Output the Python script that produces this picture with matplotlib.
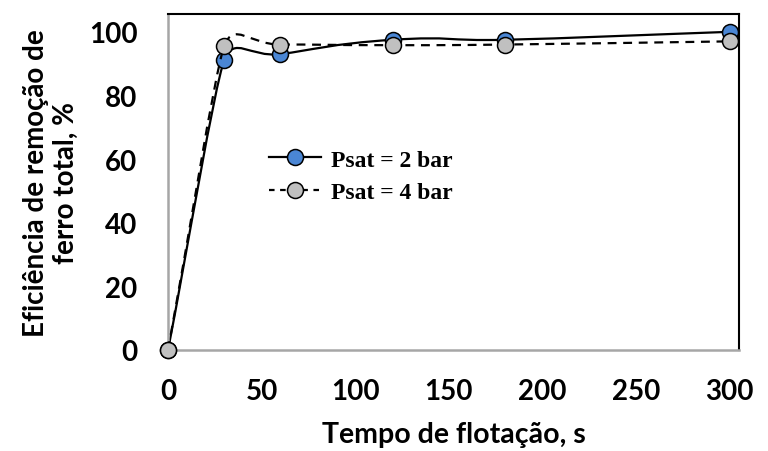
import numpy as np
import matplotlib
matplotlib.use("Agg")
import matplotlib.pyplot as plt
from matplotlib.path import Path
from matplotlib.patches import PathPatch
from matplotlib.lines import Line2D

# Data
tempo = [0, 30, 60, 120, 180, 300]
psat2 = [0, 91, 93, 97.5, 97.5, 100]
psat4 = [0, 95.5, 96, 95.8, 96, 97]
labels = ["Psat = 2 bar", "Psat = 4 bar"]
xticks = [0, 50, 100, 150, 200, 250, 300]
yticks = [0, 20, 40, 60, 80, 100]

fig = plt.figure(figsize=(7.68, 4.52), dpi=100)
ax = fig.add_axes([0.2188, 0.2235, 0.9622 - 0.2188, 0.9668 - 0.2235])
ax.set_xlim(0, 305)
ax.set_ylim(0, 105.6)

def smooth_path(xs, ys, k=0.55):
    pts = ax.transData.transform(np.column_stack([xs, ys]))
    n = len(pts)
    verts = [pts[0]]
    codes = [Path.MOVETO]
    for i in range(n - 1):
        p0 = pts[i - 1] if i > 0 else pts[i]
        p1 = pts[i]
        p2 = pts[i + 1]
        p3 = pts[i + 2] if i + 2 < n else pts[i + 1]
        d01 = np.linalg.norm(p1 - p0)
        d12 = np.linalg.norm(p2 - p1)
        d23 = np.linalg.norm(p3 - p2)
        if i > 0:
            c1 = p1 + (p2 - p0) * k * min(d01, d12) / (d01 + d12)
        else:
            c1 = p1 + (p2 - p1) / 3.0
        if i + 2 < n:
            c2 = p2 - (p3 - p1) * k * min(d12, d23) / (d12 + d23)
        else:
            c2 = p2 - (p2 - p1) / 3.0
        verts += [c1, c2, p2]
        codes += [Path.CURVE4] * 3
    verts = ax.transData.inverted().transform(np.array(verts))
    return Path(verts, codes)

blue = "#4A86D4"
grey = "#C0C0C0"

p2 = smooth_path(tempo, psat2)
ax.add_patch(PathPatch(p2, facecolor="none", edgecolor="black", lw=1.6, zorder=2))
ax.plot(tempo, psat2, linestyle="none", marker="o", ms=11.5, mfc=blue, mec="black", mew=1.1, zorder=3, clip_on=False)
p4 = smooth_path(tempo, psat4)
ax.add_patch(PathPatch(p4, facecolor="none", edgecolor="black", lw=1.6, linestyle=(0, (4, 3)), zorder=4))
ax.plot(tempo, psat4, linestyle="none", marker="o", ms=11.5, mfc=grey, mec="black", mew=1.1, zorder=5, clip_on=False)

ax.set_xticks(xticks)
ax.set_yticks(yticks)
ax.tick_params(length=0, labelsize=20)
ax.tick_params(axis="x", pad=20)
ax.tick_params(axis="y", pad=22)
for lab in ax.get_xticklabels() + ax.get_yticklabels():
    lab.set_fontfamily("Lato")
    lab.set_fontweight("bold")

for s in ["left", "bottom"]:
    ax.spines[s].set_color("#A6A6A6")
    ax.spines[s].set_linewidth(1.8)
for s in ["top", "right"]:
    ax.spines[s].set_color("black")
    ax.spines[s].set_linewidth(1.5)

ax.set_xlabel("Tempo de flotação, s", fontfamily="Lato", fontweight="bold", fontsize=20.5, va="center")
ax.xaxis.set_label_coords(0.5, -0.25)
ax.set_ylabel("Eficiência de remoção de\nferro total, %", fontfamily="Lato", fontweight="bold",
              fontsize=20, linespacing=1.22, va="center", ha="center")
ax.yaxis.set_label_coords(-0.205, 0.5)

h1 = Line2D([], [], color="black", lw=1.6, marker="o", ms=11.5, mfc=blue, mec="black", mew=1.1)
h2 = Line2D([], [], color="black", lw=1.6, linestyle=(0, (2.5, 2.5)), marker="o", ms=11.5, mfc=grey, mec="black", mew=1.1)
leg = ax.legend([h1, h2], labels, loc="center left", bbox_to_anchor=(0.14, 0.518), frameon=False,
                prop={"family": "Liberation Serif", "weight": "bold", "size": 17},
                handlelength=2.2, handletextpad=0.4, labelspacing=0.45)

fig.savefig("out.png", dpi=100)
